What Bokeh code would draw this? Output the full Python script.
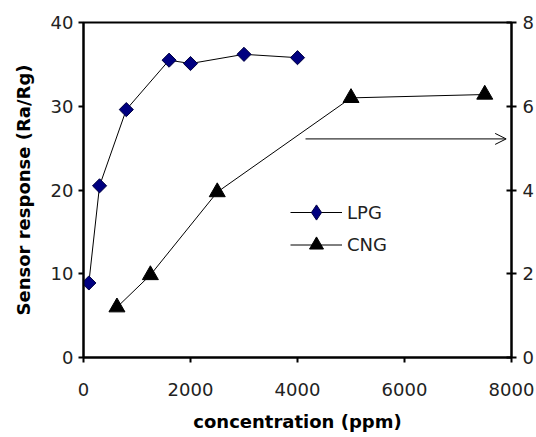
import numpy as np
from bokeh.plotting import figure
from bokeh.models import (Range1d, LinearAxis, FixedTicker, Legend, LegendItem,
                          Arrow, OpenHead)
from bokeh.embed import file_html
from bokeh.resources import INLINE

# ---- data ----
lpg_conc = [100, 300, 800, 1600, 2000, 3000, 4000]
lpg_resp = [8.9, 20.5, 29.6, 35.5, 35.1, 36.2, 35.8]
cng_conc = [625, 1250, 2500, 5000, 7500]
cng_resp = [1.2, 1.97, 3.95, 6.2, 6.28]
x_ticks = [0, 2000, 4000, 6000, 8000]
left_ticks = [0, 10, 20, 30, 40]
right_ticks = [0, 2, 4, 6, 8]
arrow_x = [4150, 7900]
arrow_y = 26.1

FONT = "DejaVu Sans"

p = figure(width=536, height=437, output_backend="svg", toolbar_location=None,
           x_range=Range1d(0, 8000), y_range=Range1d(0, 40),
           min_border_left=83, min_border_right=25, min_border_top=22,
           min_border_bottom=80)
p.extra_y_ranges = {"right": Range1d(0, 8)}
p.grid.visible = False
p.outline_line_color = "black"
p.outline_line_width = 2
p.background_fill_color = "white"
p.border_fill_color = "white"

def style_axis(ax, ticks):
    ax.ticker = FixedTicker(ticks=ticks)
    ax.minor_tick_line_color = None
    ax.axis_line_color = "black"
    ax.axis_line_width = 2
    ax.major_tick_line_color = "black"
    ax.major_tick_line_width = 2
    ax.major_label_text_font = FONT
    ax.major_label_text_font_size = "18px"
    ax.major_label_text_color = "#222222"
    ax.axis_label_text_font = FONT
    ax.axis_label_text_font_style = "bold"
    ax.axis_label_text_font_size = "18px"
    ax.axis_label_text_color = "black"

xa = p.xaxis[0]
style_axis(xa, x_ticks)
xa.major_tick_out = 5
xa.major_tick_in = 0
xa.major_label_standoff = 20
xa.axis_label = "concentration (ppm)"
xa.axis_label_standoff = 12

ya = p.yaxis[0]
style_axis(ya, left_ticks)
ya.major_tick_out = 5
ya.major_tick_in = 0
ya.major_label_standoff = 5
ya.axis_label = "Sensor response (Ra/Rg)"
ya.axis_label_standoff = 14

ra = LinearAxis(y_range_name="right")
style_axis(ra, right_ticks)
ra.major_tick_out = 5
ra.major_tick_in = 5
ra.major_label_standoff = 6
p.add_layout(ra, "right")

# LPG
l1 = p.line(lpg_conc, lpg_resp, line_color="black", line_width=1)
s1 = p.scatter(lpg_conc, lpg_resp, marker="square", angle=np.pi / 4, size=10,
               fill_color="#000080", line_color="#000040", line_width=1)
# CNG (right axis)
l2 = p.line(cng_conc, cng_resp, line_color="black", line_width=1,
            y_range_name="right")
s2 = p.scatter(cng_conc, cng_resp, marker="triangle", size=16,
               fill_color="black", line_color="black", y_range_name="right")

# legend-only marker glyphs (NaN position: nothing drawn in the plot)
k1 = p.scatter([np.nan], [np.nan], marker="diamond", size=15,
               fill_color="#000080", line_color="#000040", line_width=1)
k2 = p.scatter([np.nan], [np.nan], marker="triangle", size=14,
               fill_color="black", line_color="black")

p.add_layout(Arrow(end=OpenHead(size=11, line_color="black", line_width=1),
                   x_start=arrow_x[0], y_start=arrow_y,
                   x_end=arrow_x[1], y_end=arrow_y,
                   line_color="black", line_width=1))

def make_legend(label, rends, loc, gh):
    return Legend(items=[LegendItem(label=label, renderers=rends)],
                  location=loc, orientation="vertical",
                  glyph_width=52, glyph_height=gh, label_height=gh,
                  spacing=0, padding=0, margin=0, label_standoff=5,
                  label_text_font=FONT, label_text_font_size="18px",
                  label_text_color="#222222",
                  border_line_alpha=0, background_fill_alpha=0)

p.add_layout(make_legend("LPG", [l1, k1], (207, 126), 38), "center")
p.add_layout(make_legend("CNG", [l2, k2], (207, 95), 35), "center")

open("out.html", "w").write(file_html(p, INLINE))
